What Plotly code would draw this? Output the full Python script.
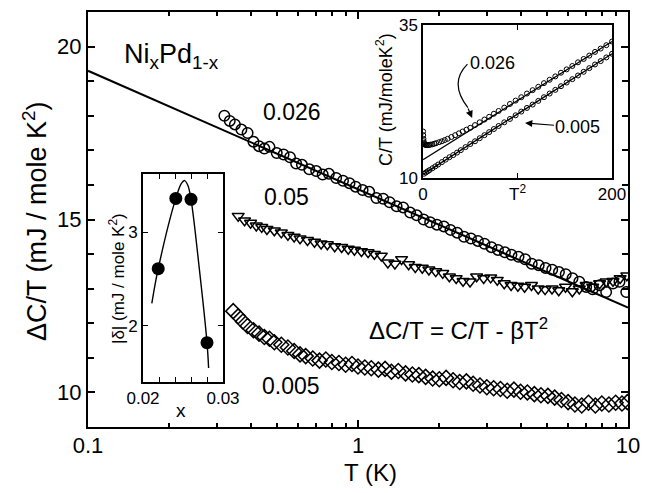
import plotly.graph_objects as go

# ---------------- main panel data: dC/T vs T (K) ----------------
T_026 = [0.32,0.335,0.35,0.37,0.39,0.41,0.43,0.45,0.47,0.50,0.53,0.56,0.59,0.62,0.66,0.70,0.74,0.78,
         0.83,0.88,0.93,0.98,1.04,1.10,1.17,1.24,1.31,1.39,1.47,1.56,1.65,1.75,1.85,1.96,2.08,2.2,2.33,
         2.47,2.62,2.78,2.94,3.12,3.3,3.5,3.7,3.93,4.16,4.4,4.67,4.95,5.24,5.55,5.88,6.23,6.6,7.0,7.4,
         7.85,8.3,8.8,9.3,9.85]
dC_026 = [18.0,17.85,17.75,17.6,17.5,17.25,17.12,17.05,17.1,16.92,16.88,16.8,16.62,16.58,16.45,16.4,
          16.3,16.32,16.2,16.12,16.05,15.95,15.85,15.8,15.62,15.6,15.5,15.38,15.35,15.2,15.12,15.0,14.92,
          14.85,14.8,14.7,14.62,14.5,14.45,14.38,14.3,14.2,14.12,14.05,13.98,13.92,13.85,13.72,13.68,13.6,
          13.55,13.48,13.42,13.3,13.2,13.05,12.98,13.1,12.9,13.15,13.2,12.9]

T_05 = [0.36,0.38,0.40,0.42,0.44,0.46,0.49,0.52,0.55,0.58,0.61,0.65,0.69,0.73,0.77,0.82,0.87,0.92,0.97,
        1.03,1.09,1.15,1.22,1.29,1.37,1.45,1.54,1.63,1.73,1.83,1.94,2.06,2.18,2.31,2.45,2.6,2.75,2.92,3.1,
        3.28,3.48,3.69,3.91,4.14,4.39,4.65,4.93,5.23,5.54,5.87,6.22,6.6,7.0,7.4,7.85,8.3,8.8,9.35,9.9]
dC_05 = [15.1,14.97,14.9,14.82,14.78,14.72,14.68,14.62,14.55,14.5,14.45,14.4,14.35,14.3,14.28,14.22,14.2,
         14.15,14.12,14.08,14.05,14.0,13.95,13.75,13.72,13.85,13.7,13.62,13.6,13.55,13.5,13.45,13.35,13.3,
         13.22,13.2,13.35,13.3,13.32,13.25,13.15,13.1,13.08,13.05,13.1,13.0,12.98,13.0,12.95,13.05,12.92,
         13.0,13.1,13.05,13.15,13.2,13.22,13.3,13.38]

T_005 = [0.345,0.36,0.375,0.39,0.41,0.43,0.45,0.47,0.49,0.52,0.55,0.58,0.61,0.64,0.68,0.72,0.76,0.80,0.85,
         0.90,0.95,1.0,1.06,1.12,1.19,1.26,1.33,1.41,1.5,1.59,1.68,1.78,1.89,2.0,2.12,2.25,2.38,2.52,2.67,
         2.83,3.0,3.18,3.37,3.57,3.78,4.0,4.24,4.5,4.76,5.05,5.35,5.67,6.0,6.36,6.74,7.14,7.57,8.0,8.5,9.0,
         9.5,9.95]
dC_005 = [12.35,12.2,12.05,11.92,11.8,11.7,11.6,11.55,11.45,11.38,11.3,11.2,11.1,11.05,10.98,10.92,10.95,
          10.88,10.85,10.8,10.82,10.75,10.72,10.7,10.66,10.68,10.6,10.62,10.55,10.52,10.5,10.45,10.4,10.38,
          10.42,10.35,10.3,10.32,10.25,10.2,10.15,10.12,10.1,10.05,10.08,10.02,10.0,9.95,9.92,9.9,9.85,9.78,
          9.72,9.65,9.62,9.7,9.62,9.68,9.65,9.7,9.68,9.72]

fit_T = [0.1, 10]
fit_dC = [19.3, 12.45]

x_ticks_main = [0.1, 1, 10]
x_ticklabels_main = ["0.1", "1", "10"]
x_minor_main = [0.2,0.3,0.4,0.5,0.6,0.7,0.8,0.9,2,3,4,5,6,7,8,9]

# ---------------- upper-right inset: C/T vs T^2 ----------------
T2_026 = [0.1,0.2,0.4,0.7,1,1.5,2,3,4,5,6.5,8,10,12,14,17,20,23,26,30,34,38,42,46,50,55,60,65,70,75,80,
          86,92,98,104,110,116,122,128,134,140,146,152,158,164,170,176,182,188,194,200]
CT_026 = [17.6,17.0,16.4,16.0,15.7,15.5,15.45,15.4,15.38,15.38,15.4,15.45,15.5,15.6,15.7,15.85,16.0,16.2,
          16.4,16.7,17.0,17.3,17.6,17.9,18.2,18.65,19.1,19.55,20.0,20.5,20.95,21.5,22.1,22.65,23.2,23.8,
          24.35,24.9,25.5,26.05,26.6,27.2,27.75,28.3,28.9,29.45,30.0,30.6,31.15,31.7,32.3]
T2_005 = [1,3,5,7,10,13,16,20,24,28,32,36,40,45,50,55,60,65,70,75,80,86,92,98,104,110,116,122,128,134,
          140,146,152,158,164,170,176,182,188,194,200]
CT_005 = [10.7,10.9,11.1,11.3,11.6,11.9,12.2,12.6,13.0,13.4,13.75,14.15,14.55,15.05,15.55,16.0,16.5,17.0,
          17.5,18.0,18.5,19.1,19.65,20.25,20.85,21.45,22.0,22.6,23.2,23.8,24.4,25.0,25.6,26.15,26.75,27.35,
          27.95,28.55,29.1,29.7,30.3]
fit26_T2 = [0, 200]
fit26_CT = [13.0, 32.3]
fit005_T2 = [0, 200]
fit005_CT = [10.6, 30.3]

# ---------------- left inset: |delta| vs x ----------------
x_conc = [0.0219, 0.0241, 0.0260, 0.0280]
delta = [2.61, 3.36, 3.35, 1.82]
curve_x = [0.0211, 0.0219, 0.0241, 0.0248, 0.0252, 0.0256, 0.0260, 0.0270, 0.0280, 0.0282]
curve_y = [2.24, 2.61, 3.36, 3.52, 3.55, 3.50, 3.35, 2.64, 1.82, 1.55]

FONT = "Liberation Sans, Arial, sans-serif"
BLACK = "black"

fig = go.Figure()

# main panel
fig.add_trace(go.Scatter(x=fit_T, y=fit_dC, mode="lines", line=dict(color=BLACK, width=2),
                         xaxis="x", yaxis="y", showlegend=False))
fig.add_trace(go.Scatter(x=T_026, y=dC_026, mode="markers",
                         marker=dict(symbol="circle-open", size=10.5, color=BLACK, line=dict(width=1.5)),
                         xaxis="x", yaxis="y", showlegend=False))
fig.add_trace(go.Scatter(x=T_05, y=dC_05, mode="markers",
                         marker=dict(symbol="triangle-down-open", size=10.5, color=BLACK, line=dict(width=1.5)),
                         xaxis="x", yaxis="y", showlegend=False))
fig.add_trace(go.Scatter(x=T_005, y=dC_005, mode="markers",
                         marker=dict(symbol="diamond-open", size=11.5, color=BLACK, line=dict(width=1.5)),
                         xaxis="x", yaxis="y", showlegend=False))

# right inset
fig.add_trace(go.Scatter(x=fit26_T2, y=fit26_CT, mode="lines", line=dict(color=BLACK, width=1.3),
                         xaxis="x2", yaxis="y2", showlegend=False))
fig.add_trace(go.Scatter(x=fit005_T2, y=fit005_CT, mode="lines", line=dict(color=BLACK, width=1.3),
                         xaxis="x2", yaxis="y2", showlegend=False))
fig.add_trace(go.Scatter(x=T2_026, y=CT_026, mode="markers",
                         marker=dict(symbol="circle-open", size=5, color=BLACK, line=dict(width=1)),
                         xaxis="x2", yaxis="y2", showlegend=False))
fig.add_trace(go.Scatter(x=T2_005, y=CT_005, mode="markers",
                         marker=dict(symbol="circle-open", size=5, color=BLACK, line=dict(width=1)),
                         xaxis="x2", yaxis="y2", showlegend=False))

# left inset
fig.add_trace(go.Scatter(x=curve_x, y=curve_y, mode="lines", line=dict(color=BLACK, width=1.4, shape="spline"),
                         xaxis="x3", yaxis="y3", showlegend=False))
fig.add_trace(go.Scatter(x=x_conc, y=delta, mode="markers",
                         marker=dict(symbol="circle", size=13, color=BLACK),
                         xaxis="x3", yaxis="y3", showlegend=False))

axis_common = dict(showline=True, linecolor=BLACK, showgrid=False, zeroline=False,
                   ticks="inside", tickcolor=BLACK, mirror="allticks", automargin=False)

# the page body adds an 8 px margin, so the figure is drawn 8 px smaller and offset
fig.update_layout(
    width=644, height=485,
    margin=dict(l=80, r=24, t=4, b=66, autoexpand=False),
    paper_bgcolor="white", plot_bgcolor="white",
    font=dict(family=FONT, color=BLACK),
    xaxis=dict(axis_common, type="log", range=[-1, 1], domain=[0, 1], anchor="y",
               linewidth=2.2, tickwidth=1.5, ticklen=7, ticklabelstandoff=-3,
               tickvals=x_ticks_main, ticktext=x_ticklabels_main, tickfont=dict(size=22),
               minor=dict(tickvals=x_minor_main, ticks="inside", ticklen=4, tickwidth=1.5, tickcolor=BLACK)),
    yaxis=dict(axis_common, range=[9, 21], domain=[0, 1], anchor="x",
               linewidth=2.2, tickwidth=1.5, ticklen=7, tick0=0, dtick=5, tickfont=dict(size=22),
               minor=dict(dtick=1, ticks="inside", ticklen=6, tickwidth=1.5, tickcolor=BLACK)),
    xaxis2=dict(axis_common, range=[0, 200], domain=[0.6204, 0.9704], anchor="y2",
                linewidth=1.5, tickwidth=1.2, ticklen=5,
                tickvals=[0, 100, 200], ticktext=["0", "T<sup>2</sup>", "200"], tickfont=dict(size=17)),
    yaxis2=dict(axis_common, range=[10, 35], domain=[0.6, 0.9687], anchor="x2",
                linewidth=1.5, tickwidth=1.2, ticklen=0,
                tickvals=[10, 35], ticktext=["10", "35"], tickfont=dict(size=17)),
    xaxis3=dict(axis_common, range=[0.02, 0.03], domain=[0.1019, 0.25], anchor="y3",
                linewidth=2, tickwidth=1.2, ticklen=5,
                tickvals=[0.02, 0.022, 0.024, 0.026, 0.028, 0.03],
                ticktext=["0.02", "", "", "", "", "0.03"], tickfont=dict(size=17)),
    yaxis3=dict(axis_common, range=[1.4, 3.62], domain=[0.1084, 0.6096], anchor="x3",
                linewidth=2, tickwidth=1.2, ticklen=5,
                tickvals=[2, 3], ticktext=["2", "3"], tickfont=dict(size=17)),
)

ann = []
# axis titles
ann.append(dict(text="\u0394C/T (mJ / mole K<sup>2</sup>)", xref="paper", yref="paper", x=-0.0981, y=0.4964,
                textangle=-90, showarrow=False, font=dict(size=27), xanchor="center", yanchor="middle"))
ann.append(dict(text="T (K)", xref="paper", yref="paper", x=0.524, y=-0.1108,
                showarrow=False, font=dict(size=24), xanchor="center", yanchor="middle"))
# labels in main panel
ann.append(dict(text="Ni<sub>x</sub>Pd<sub>1-x</sub>", xref="paper", yref="paper", x=0.063, y=0.895,
                showarrow=False, font=dict(size=27), xanchor="left", yanchor="middle"))
ann.append(dict(text="0.026", xref="paper", yref="paper", x=0.3778, y=0.759,
                showarrow=False, font=dict(size=23), xanchor="center", yanchor="middle"))
ann.append(dict(text="0.05", xref="paper", yref="paper", x=0.3685, y=0.5542,
                showarrow=False, font=dict(size=23), xanchor="center", yanchor="middle"))
ann.append(dict(text="0.005", xref="paper", yref="paper", x=0.3759, y=0.0988,
                showarrow=False, font=dict(size=23), xanchor="center", yanchor="middle"))
ann.append(dict(text="\u0394C/T = C/T - \u03b2T<sup>2</sup>", xref="paper", yref="paper", x=0.687, y=0.236,
                showarrow=False, font=dict(size=24), xanchor="center", yanchor="middle"))
# right inset
ann.append(dict(text="C/T (mJ/moleK<sup>2</sup>)", xref="paper", yref="paper", x=0.55, y=0.788,
                textangle=-90, showarrow=False, font=dict(size=18), xanchor="center", yanchor="middle"))
ann.append(dict(text="0.026", xref="x2", yref="y2", x=73, y=28.8,
                showarrow=False, font=dict(size=18), xanchor="center", yanchor="middle"))
ann.append(dict(text="", xref="x2", yref="y2", x=52, y=19.8, ax=47, ay=21.6, axref="x2", ayref="y2",
                showarrow=True, arrowhead=2, arrowsize=1.2, arrowwidth=1.2, arrowcolor=BLACK))
ann.append(dict(text="0.005", xref="x2", yref="y2", x=108, y=19.0, ax=164, ay=18.3, axref="x2", ayref="y2",
                showarrow=True, arrowhead=2, arrowsize=1.2, arrowwidth=1.2, arrowcolor=BLACK,
                font=dict(size=18)))
# left inset
ann.append(dict(text="|\u03b4| (mJ / mole K<sup>2</sup>)", xref="paper", yref="paper", x=0.0537, y=0.359,
                textangle=-90, showarrow=False, font=dict(size=17), xanchor="center", yanchor="middle"))
ann.append(dict(text="x", xref="paper", yref="paper", x=0.1722, y=0.0386,
                showarrow=False, font=dict(size=19), xanchor="center", yanchor="middle"))

fig.update_layout(annotations=ann)

fig.add_shape(type="path", xref="x2", yref="y2", path="M 47,28.6 Q 27,25.5 47.5,21.5",
              line=dict(color=BLACK, width=1.2))

fig.write_html("out.html")
